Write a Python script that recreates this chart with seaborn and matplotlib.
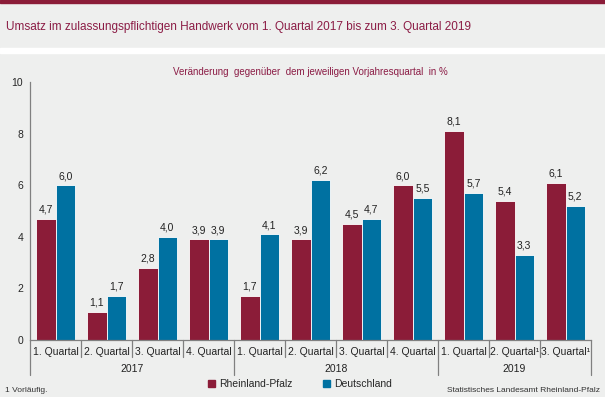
import matplotlib.pyplot as plt
import matplotlib.patches as mpatches
import seaborn as sns
import pandas as pd

# Daten: Veränderung gegenüber dem Vorjahresquartal in %
quarters = ["1. Quartal", "2. Quartal", "3. Quartal", "4. Quartal",
            "1. Quartal", "2. Quartal", "3. Quartal", "4. Quartal",
            "1. Quartal", "2. Quartal¹", "3. Quartal¹"]
years = ["2017", "2017", "2017", "2017",
         "2018", "2018", "2018", "2018",
         "2019", "2019", "2019"]
rlp = [4.7, 1.1, 2.8, 3.9, 1.7, 3.9, 4.5, 6.0, 8.1, 5.4, 6.1]
de = [6.0, 1.7, 4.0, 3.9, 4.1, 6.2, 4.7, 5.5, 5.7, 3.3, 5.2]
series = ["Rheinland-Pfalz", "Deutschland"]

bg = "#EEEFEE"
red = "#8B1C38"
blue = "#0071A1"
titlecol = "#8B1C45"

keys = [f"{q} {y}" for q, y in zip(quarters, years)]
df = pd.DataFrame({
    "key": keys * 2,
    "wert": rlp + de,
    "region": [series[0]] * len(rlp) + [series[1]] * len(de),
})

sns.set_style("white")
plt.rcParams["font.family"] = ["Liberation Sans", "DejaVu Sans"]

fig = plt.figure(figsize=(6.05, 3.97), dpi=100, facecolor=bg)
H = 397.0
# Titelband: rote Linie oben, weiße Trennlinie
fig.patches.append(mpatches.Rectangle((0, 1 - 2.5 / H), 1, 2.5 / H, transform=fig.transFigure,
                                      color=red, zorder=0))
fig.patches.append(mpatches.Rectangle((0, 1 - 53 / H), 1, 5 / H, transform=fig.transFigure,
                                      color="white", zorder=0))
fig.text(6 / 605, 1 - 27 / H, "Umsatz im zulassungspflichtigen Handwerk vom 1. Quartal 2017 bis zum 3. Quartal 2019",
         ha="left", va="center", fontsize=8.5, color=titlecol)
fig.text(310 / 605, 1 - 72 / H, "Veränderung  gegenüber  dem jeweiligen Vorjahresquartal  in %",
         ha="center", va="center", fontsize=7, color=titlecol)

ax = fig.add_axes([30 / 605, 1 - 340 / H, 561 / 605, 258 / H])
ax.set_facecolor(bg)
sns.barplot(data=df, x="key", y="wert", hue="region", order=keys, hue_order=series,
            palette=[red, blue], width=0.77, edgecolor="white", linewidth=0.6,
            saturation=1, legend=False, ax=ax)

for cont in ax.containers:
    ax.bar_label(cont, labels=[f"{b.get_height():.1f}".replace(".", ",") for b in cont],
                 padding=3, fontsize=7.5, color="#222222")

ax.set_ylim(0, 10)
ax.set_xlim(-0.5, len(keys) - 0.5)
ax.set_yticks([0, 2, 4, 6, 8, 10])
ax.set_xticks([])
ax.set_xlabel("")
ax.set_ylabel("")
ax.tick_params(axis="y", length=3, width=0.8, color="#808080", labelsize=7.5, pad=2)
for s in ["top", "right"]:
    ax.spines[s].set_visible(False)
for s in ["left", "bottom"]:
    ax.spines[s].set_color("#808080")
    ax.spines[s].set_linewidth(0.9)

# Kategorienachse mit Quartalen und Jahren
trans = ax.get_xaxis_transform()
for i, q in enumerate(quarters):
    ax.text(i, -0.047, q, transform=trans, ha="center", va="center", fontsize=7.5, color="#222222")
for i in range(len(keys) + 1):
    x = i - 0.5
    if i == 0 or i == len(keys) or years[i] != years[i - 1]:
        y_end = -0.137
    else:
        y_end = -0.066
    ax.plot([x, x], [0, y_end], transform=trans, color="#808080", lw=0.9, clip_on=False)
for y in sorted(set(years)):
    idx = [i for i, v in enumerate(years) if v == y]
    ax.text(sum(idx) / len(idx), -0.112, y, transform=trans, ha="center", va="center",
            fontsize=7.5, color="#222222")

handles = [mpatches.Patch(color=red, label=series[0]), mpatches.Patch(color=blue, label=series[1])]
fig.legend(handles=handles, loc="center", bbox_to_anchor=(300 / 605, 1 - 384 / H), ncol=2,
           frameon=False, fontsize=7.5, handlelength=0.6, handleheight=0.6, handletextpad=0.4,
           columnspacing=3)

fig.text(5 / 605, 1 - 391 / H, "1 Vorläufig.", ha="left", va="center", fontsize=6, color="#333333")
fig.text(600 / 605, 1 - 391 / H, "Statistisches Landesamt Rheinland-Pfalz", ha="right", va="center",
         fontsize=6, color="#333333")

fig.savefig("out.png", dpi=100, facecolor=bg)
